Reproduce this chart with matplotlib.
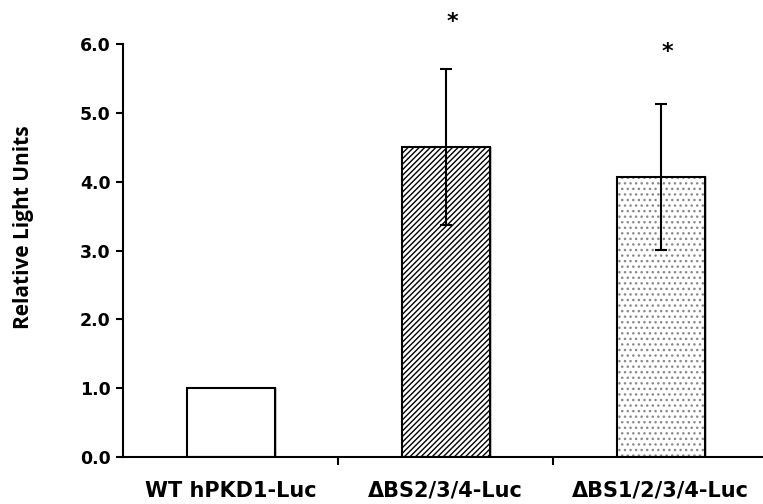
import matplotlib.pyplot as plt
import numpy as np

# data
labels = ["WT hPKD1-Luc", "\u0394BS2/3/4-Luc", "\u0394BS1/2/3/4-Luc"]
values = [1.0, 4.5, 4.07]
errors = [0.0, 1.13, 1.06]
hatches = ["", "//////", "..."]
stars = ["", "*", "*"]
star_y = [0, 6.32, 5.89]

plt.rcParams["hatch.linewidth"] = 1.0

fig = plt.figure(figsize=(7.63, 5.04), dpi=100)
ax = fig.add_axes([123 / 763, 1 - 457 / 504, 640 / 763, (457 - 44) / 504])

x = np.arange(len(labels))
w = 88 / 215

for i in range(len(labels)):
    # light shadow on the right side
    ax.bar(x[i] + 2 / 215, values[i], w, color="#c8c8c8", linewidth=0, zorder=1)
    if hatches[i] == "...":
        ax.bar(x[i], values[i], w, color="white", edgecolor="#8a8a8a",
               hatch=hatches[i], linewidth=0, zorder=2)
    else:
        ax.bar(x[i], values[i], w, color="white", edgecolor="black",
               hatch=hatches[i], linewidth=0, zorder=2)
    ax.bar(x[i], values[i], w, fill=False, edgecolor="black", linewidth=1.5, zorder=3)

ax.errorbar(x[1:], values[1:], yerr=errors[1:], fmt="none", ecolor="black",
            elinewidth=1.5, capsize=4, capthick=1.5, zorder=4)

for i in range(len(labels)):
    if stars[i]:
        ax.text(x[i] + 0.03, star_y[i], stars[i], ha="center", va="center",
                fontsize=16, fontweight="bold", color="black")

ax.set_xlim(-0.5, 2.5 - 5 / 215)
ax.set_ylim(0, 6)
ax.set_yticks(np.arange(0, 6.5, 1.0))
ax.set_yticklabels([f"{v:.1f}" for v in np.arange(0, 6.5, 1.0)],
                   fontsize=12.5, fontweight="bold")
ax.set_xticks(x)
ax.set_xticklabels(labels, fontsize=15, fontweight="bold")
ax.set_xticks([0.5, 1.5], minor=True)
ax.tick_params(axis="x", which="major", length=0, pad=17)
ax.tick_params(axis="x", which="minor", length=6, width=1.5, direction="out")
ax.tick_params(axis="y", length=5, width=1.5, direction="out", pad=4)

ax.spines["top"].set_visible(False)
ax.spines["right"].set_visible(False)
ax.spines["left"].set_linewidth(1.5)
ax.spines["bottom"].set_linewidth(1.5)

ax.set_ylabel("Relative Light Units", fontsize=15, fontweight="bold",
              family="Open Sans", va="center")
ax.yaxis.set_label_coords(-99 / 640, (457 - 227) / 413)

fig.savefig("out.png", dpi=100)
